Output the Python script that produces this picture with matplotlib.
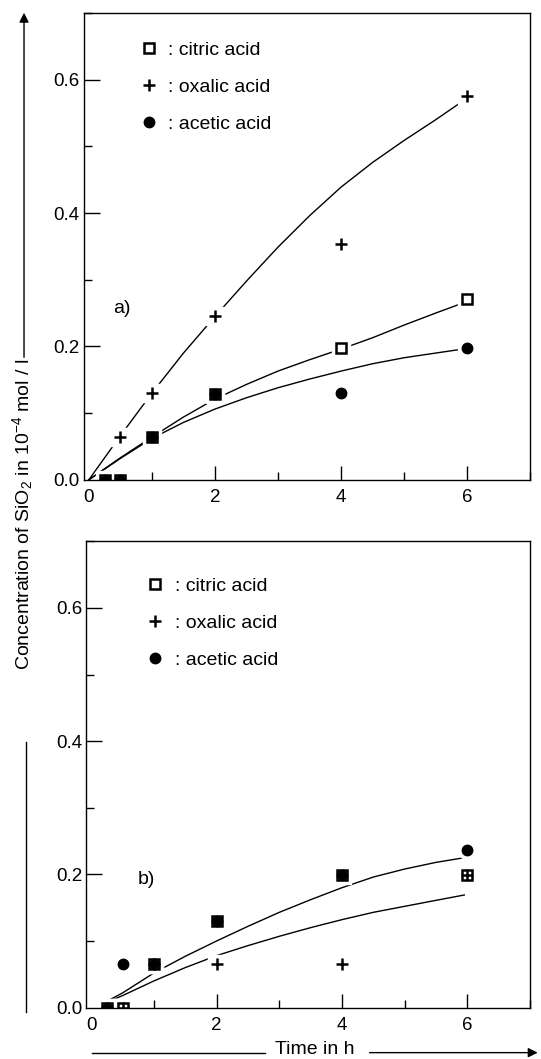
import matplotlib
matplotlib.use('Agg')
import matplotlib.pyplot as plt
from matplotlib.ticker import MultipleLocator
from matplotlib.lines import Line2D
from matplotlib.patches import FancyArrowPatch

plt.rcParams['font.family'] = ['Liberation Sans', 'DejaVu Sans']
plt.rcParams['mathtext.fontset'] = 'custom'
plt.rcParams['mathtext.rm'] = 'Liberation Sans'
plt.rcParams['mathtext.it'] = 'Liberation Sans'

# measured points, panel a)
t = [0.25, 0.5, 1, 2, 4, 6]
a_citric = [0.0, 0.0, 0.064, 0.129, 0.197, 0.271]
a_oxalic = [None, 0.064, 0.130, 0.245, 0.353, 0.575]
a_acetic = [0.0, 0.0, 0.064, 0.129, 0.130, 0.197]

# measured points, panel b)
b_citric = [0.0, 0.0, 0.066, 0.130, 0.199, 0.199]
b_oxalic = [0.0, 0.0, 0.066, 0.066, 0.066, 0.199]
b_acetic = [0.0, 0.066, 0.066, 0.130, 0.199, 0.237]

# fitted curves
ca_t = [0, 0.5, 1, 1.5, 2, 2.5, 3, 3.5, 4, 4.5, 5, 5.5, 5.93]
ca_oxalic = [0, 0.066, 0.130, 0.190, 0.245, 0.298, 0.349, 0.396, 0.439,
             0.476, 0.509, 0.540, 0.568]
ca_citric = [0, 0.033, 0.064, 0.094, 0.121, 0.143, 0.163, 0.180, 0.196,
             0.213, 0.232, 0.250, 0.265]
ca_acetic = [0, 0.032, 0.062, 0.086, 0.106, 0.123, 0.138, 0.151, 0.163,
             0.174, 0.183, 0.190, 0.196]

cb_t = [0.3, 0.5, 1, 1.5, 2, 2.5, 3, 3.5, 4, 4.5, 5, 5.5, 5.95]
cb_upper = [0.012, 0.022, 0.052, 0.077, 0.100, 0.122, 0.143, 0.162, 0.180,
            0.196, 0.208, 0.218, 0.225]
cb_lower = [0.010, 0.018, 0.040, 0.060, 0.078, 0.093, 0.107, 0.120, 0.132,
            0.143, 0.152, 0.161, 0.169]

labels = [': citric acid', ': oxalic acid', ': acetic acid']

fig = plt.figure(figsize=(5.41, 10.59), dpi=100)
ax1 = fig.add_axes([0.155, 0.547, 0.825, 0.4406])
ax2 = fig.add_axes([0.1595, 0.0486, 0.8205, 0.4402])

FS = 13.5


def pts(x, y):
    xs = [a for a, b in zip(x, y) if b is not None]
    ys = [b for b in y if b is not None]
    return xs, ys


def panel(ax, cit, oxa, ace, curves_t, curves, tag, tagpos, legpos):
    for c in curves:
        ax.plot(curves_t, c, color='black', lw=1.0, zorder=2, solid_joinstyle='round')
    # white halos so the curves break around the symbols
    for ys, m in ((cit, 's'), (oxa, 's'), (ace, 'o')):
        ax.plot(*pts(t, ys), m, color='white', ms=13, ls='none', zorder=2.5)
    ax.plot(*pts(t, ace), 'o', color='black', ms=7.5, ls='none', zorder=3)
    ax.plot(*pts(t, cit), 's', mfc='white', mec='black', mew=1.8, ms=7.5,
            ls='none', zorder=4)
    ax.plot(*pts(t, ace), 'o', color='black', ms=6.5, ls='none', zorder=5)
    ax.plot(*pts(t, oxa), '+', color='black', ms=9, mew=1.8, ls='none', zorder=6)

    ax.set_xlim(-0.08, 7.0)
    ax.set_ylim(0, 0.7)
    ax.set_xticks([0, 2, 4, 6])
    ax.xaxis.set_minor_locator(MultipleLocator(1))
    ax.set_yticks([0, 0.2, 0.4, 0.6])
    ax.set_yticklabels(['0.0', '0.2', '0.4', '0.6'])
    ax.yaxis.set_minor_locator(MultipleLocator(0.1))
    ax.tick_params(which='major', direction='in', width=1, labelsize=FS)
    ax.tick_params(axis='y', which='major', length=11.5, pad=3)
    ax.tick_params(axis='x', which='major', length=10, pad=6.5)
    ax.tick_params(which='minor', direction='in', length=6, width=1)
    ax.xaxis.get_major_ticks()[0].tick1line.set_visible(False)
    ax.yaxis.get_major_ticks()[0].tick1line.set_visible(False)
    for s in ax.spines.values():
        s.set_linewidth(1.0)

    ax.text(tagpos[0], tagpos[1], tag, fontsize=FS + 0.5, ha='center', va='center')

    handles = [
        Line2D([], [], marker='s', mfc='white', mec='black', mew=1.8, ms=7, ls='none'),
        Line2D([], [], marker='+', color='black', mew=1.8, ms=9, ls='none'),
        Line2D([], [], marker='o', color='black', ms=7.5, ls='none'),
    ]
    ax.legend(handles, labels, loc='upper left', bbox_to_anchor=legpos,
              frameon=False, fontsize=FS + 0.5, handlelength=0.8, handletextpad=0.6,
              labelspacing=1.0, borderaxespad=0)


panel(ax1, a_citric, a_oxalic, a_acetic, ca_t,
      [ca_oxalic, ca_citric, ca_acetic], 'a)', (0.53, 0.257), (0.111, 0.956))
panel(ax2, b_citric, b_oxalic, b_acetic, cb_t,
      [cb_upper, cb_lower], 'b)', (0.88, 0.193), (0.120, 0.940))

# axis titles with arrows
fig.text(0.0416, 0.514, r'Concentration of SiO$_2$ in 10$^{-4}$ mol / l',
         rotation=90, ha='center', va='center', fontsize=14)
fig.add_artist(Line2D([0.048, 0.048], [0.299, 0.0444], color='black', lw=1.0))
fig.patches.append(FancyArrowPatch(
    (0.0444, 0.660), (0.0444, 0.9906), transform=fig.transFigure,
    arrowstyle='-|>', mutation_scale=14, color='black', lw=1.0))

fig.text(0.581, 0.0085, 'Time in h', ha='center', va='center', fontsize=14)
fig.add_artist(Line2D([0.1695, 0.490], [0.006, 0.006], color='black', lw=1.0))
fig.patches.append(FancyArrowPatch(
    (0.678, 0.006), (0.999, 0.006), transform=fig.transFigure,
    arrowstyle='-|>', mutation_scale=14, color='black', lw=1.0))

fig.savefig('out.png', dpi=100)
